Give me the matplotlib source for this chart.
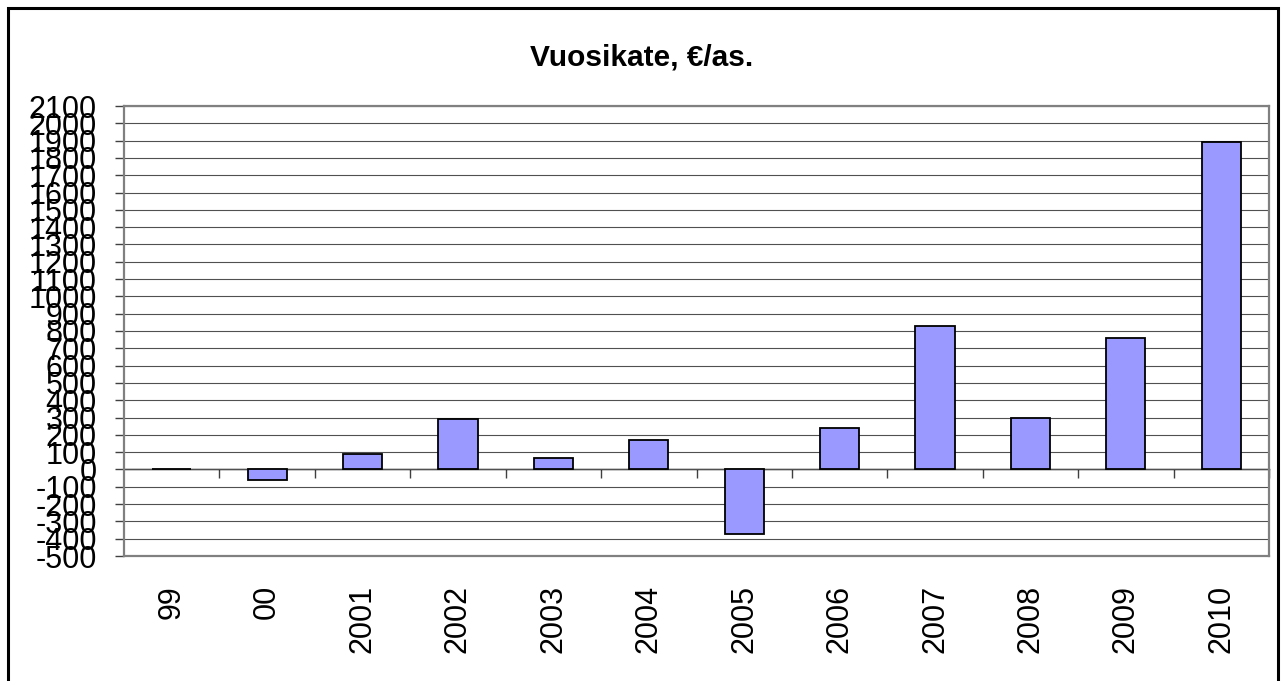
import numpy as np
import matplotlib
matplotlib.use("Agg")
import matplotlib.pyplot as plt
from matplotlib.patches import Rectangle

plt.rcParams['font.family'] = ['Liberation Sans', 'DejaVu Sans']
plt.rcParams['axes.unicode_minus'] = False

years = ["99", "00", "2001", "2002", "2003", "2004", "2005", "2006", "2007", "2008", "2009", "2010"]
vuosikate = [5, -62, 92, 289, 65, 173, -370, 240, 828, 295, 760, 1890]

ymin, ymax = -500, 2100

fig = plt.figure(figsize=(12.84, 6.81), dpi=100)
ax = fig.add_axes([124 / 1284, 1 - 556 / 681, (1269 - 124) / 1284, (556 - 106) / 681])

x = np.arange(len(years))
ax.set_axisbelow(True)
ax.yaxis.grid(True, color="#505050", lw=0.8)
ax.bar(x, vuosikate, width=0.41, color="#9999FF", edgecolor="black", lw=1.3, zorder=3)

ax.set_xlim(-0.5, len(years) - 0.5)
ax.set_ylim(ymin, ymax)
ax.set_yticks(np.arange(ymin, ymax + 1, 100))
ax.tick_params(axis="y", labelsize=22, length=6.5, pad=13, color="#404040", width=1)
ax.set_xticks(x)
ax.set_xticklabels(years, rotation=90, fontsize=22)
ax.tick_params(axis="x", length=0, pad=21)

for s in ax.spines.values():
    s.set_color("#808080")
    s.set_linewidth(1.6)

# zero line with category separator ticks
zero = ax.secondary_xaxis((0 - ymin) / (ymax - ymin))
zero.set_xticks(np.arange(0.5, len(years), 1.0))
zero.tick_params(axis="x", direction="out", length=6.5, width=1, color="#404040", labelbottom=False, labeltop=False)
zero.spines["bottom"].set_color("black")
zero.spines["bottom"].set_linewidth(1)

fig.text(0.5, 1 - 57 / 681, "Vuosikate, €/as.", ha="center", va="center", fontsize=21.5, fontweight="bold")

fig.patches.append(Rectangle((8 / 1284, -0.05), 1270 / 1284, 1.05 - 8 / 681, transform=fig.transFigure,
                             fill=False, edgecolor="black", lw=2.2))

fig.savefig("out.png", dpi=100)
